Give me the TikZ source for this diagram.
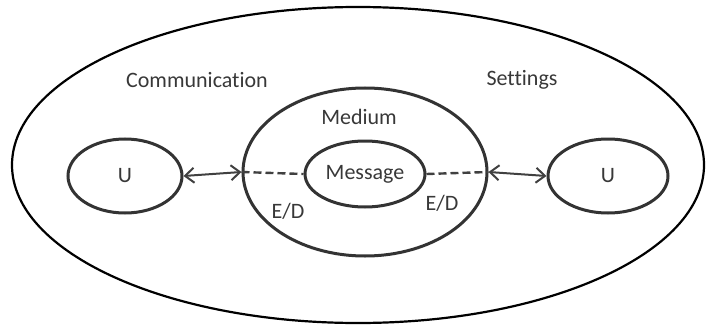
\documentclass[tikz,border=0pt]{standalone}
\usepackage{fontspec}
\setmainfont[Ligatures=NoCommon]{Carlito}
\usetikzlibrary{positioning,shapes.geometric,arrows.meta}

\begin{document}
\begin{tikzpicture}
        [x=0.5pt, y=-0.5pt, font=\fontsize{11}{13}\selectfont,
        every node/.style={text=black!78, inner sep=0pt},
        ring/.style={ellipse, draw=black!80, line width=1.5pt},
        link/.style={draw=black!75, line width=1pt,
        {Straight Barb[length=4.5pt,width=7.5pt]}-{Straight Barb[length=4.5pt,width=7.5pt]}},
        coder/.style={draw=black!75, line width=1.2pt, dash pattern=on 4pt off 2pt}]
        \useasboundingbox (0,0) rectangle (706,326);
        % outer field and its two labels
        \node[ellipse, draw=black, line width=1.1pt,
            minimum width=346pt, minimum height=158pt] (world) at (358,165) {};
        \node (comm) at (197,80) {Communication};
        \node (sett) at (522,80) {Settings};
        % medium with the message inside
        \node[ring, minimum width=122pt, minimum height=84pt] (medium) at (365,172) {};
        \node (mlabel) at (359,117) {Medium};
        \node[ring, minimum width=60pt, minimum height=33pt] (message) at (365,174) {Message};
        % the two users
        \node[ring, minimum width=57pt, minimum height=37pt] (uleft) at (125,176) {U};
        \node[ring, minimum width=60pt, minimum height=37pt] (uright) at (608,176) {U};
        \draw[link] (uleft.east) -- (medium.west);
        \draw[link] (medium.east) -- (uright.west);
        \draw[coder] (medium.west) -- (message.west);
        \draw[coder] (message.east) -- (medium.east);
        \node (edleft) at (288,211) {E/D};
        \node (edright) at (442,203) {E/D};
\end{tikzpicture}
\end{document}
